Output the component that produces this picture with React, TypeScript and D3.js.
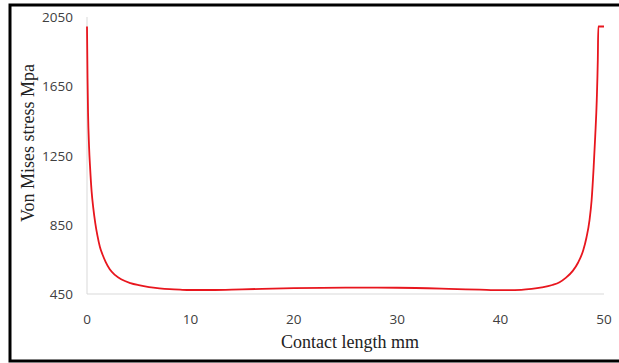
import React, { useEffect, useRef } from "react";
import * as d3 from "d3";

// contact length (mm) and von Mises stress (MPa)
const lengthMm = [
  0, 0.05, 0.1, 0.2, 0.3, 0.45, 0.6, 0.8, 1.0, 1.25, 1.5, 1.8, 2.2, 2.7, 3.3, 4.2, 5, 6, 7, 8, 9,
  10, 12, 15, 20, 25, 30, 35, 38, 40, 42, 43, 44, 45, 45.7, 46.3, 47, 47.5, 48, 48.3, 48.6, 48.8,
  49, 49.15, 49.3, 49.4, 49.45, 50,
];
const stressMpa = [
  1995, 1700, 1500, 1300, 1180, 1040, 950, 860, 790, 722, 678, 636, 593, 560, 535, 513, 501, 490,
  483, 478, 475, 473, 473, 477, 484, 487, 486, 480, 475, 472, 474, 479, 488, 502, 518, 543, 585,
  632, 704, 775, 877, 990, 1183, 1360, 1570, 1800, 1995, 1995,
];
const xTicks = [0, 10, 20, 30, 40, 50];
const yTicks = [450, 850, 1250, 1650, 2050];

export default function App() {
  const ref = useRef<SVGSVGElement>(null);

  useEffect(() => {
    const svg = d3.select(ref.current);
    svg.selectAll("*").remove();

    const x = d3.scaleLinear().domain([0, 50]).range([87, 604]);
    const y = d3.scaleLinear().domain([450, 2050]).range([294, 17]);

    // outer frame
    svg.append("rect")
      .attr("x", 10).attr("y", 5)
      .attr("width", 630).attr("height", 356)
      .attr("fill", "none").attr("stroke", "#000").attr("stroke-width", 3);

    // axis lines
    svg.append("line")
      .attr("x1", x(0)).attr("x2", x(0)).attr("y1", y(2050)).attr("y2", y(450))
      .attr("stroke", "#d9d9d9");
    svg.append("line")
      .attr("x1", x(0)).attr("x2", x(50)).attr("y1", y(450)).attr("y2", y(450))
      .attr("stroke", "#d9d9d9");

    const tickFont = "'Open Sans', 'Liberation Sans', sans-serif";
    svg.append("g").selectAll("text").data(yTicks).enter().append("text")
      .attr("x", 73).attr("y", d => y(d) + 5)
      .attr("text-anchor", "end")
      .style("font-family", tickFont).style("font-size", "13.5px").attr("fill", "#404040")
      .text(d => d);
    svg.append("g").selectAll("text").data(xTicks).enter().append("text")
      .attr("x", d => x(d)).attr("y", 324)
      .attr("text-anchor", "middle")
      .style("font-family", tickFont).style("font-size", "13.5px").attr("fill", "#404040")
      .text(d => d);

    // curve
    const pts = lengthMm.map((l, i) => [l, stressMpa[i]] as [number, number]);
    const line = d3.line<[number, number]>()
      .x(d => x(d[0]))
      .y(d => y(d[1]))
      .curve(d3.curveMonotoneX);
    svg.append("path")
      .datum(pts)
      .attr("d", line)
      .attr("fill", "none")
      .attr("stroke", "#e8161e")
      .attr("stroke-width", 1.8);

    // titles
    svg.append("text")
      .attr("x", 350).attr("y", 348)
      .attr("text-anchor", "middle")
      .style("font-family", "'Liberation Serif', 'Times New Roman', serif")
      .style("font-size", "18px").attr("fill", "#222")
      .text("Contact length mm");
    svg.append("text")
      .attr("transform", "translate(34,143) rotate(-90)")
      .attr("text-anchor", "middle")
      .style("font-family", "'Liberation Serif', 'Times New Roman', serif")
      .style("font-size", "18px").attr("fill", "#222")
      .text("Von Mises stress Mpa");
  }, []);

  return (
    <svg
      ref={ref}
      width={619}
      height={363}
      style={{ position: "absolute", left: 0, top: 0, background: "#fff" }}
    />
  );
}
